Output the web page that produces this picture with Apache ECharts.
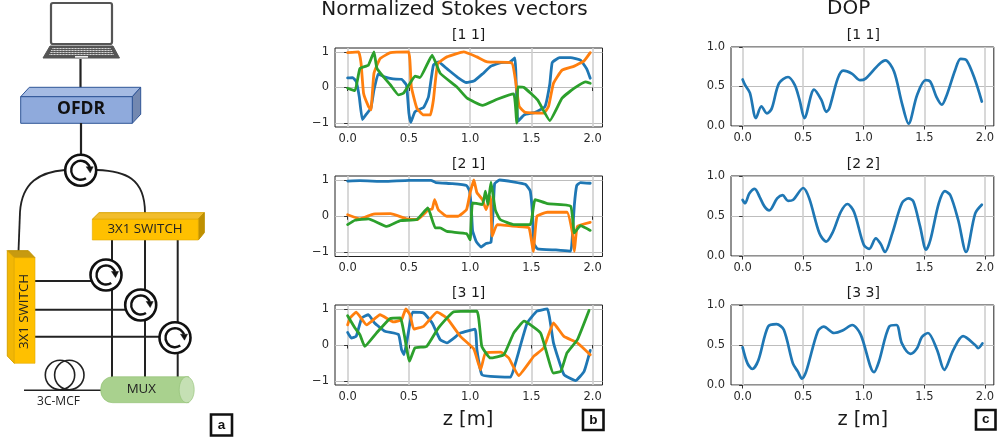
<!DOCTYPE html>
<html><head><meta charset="utf-8">
<style>html,body{margin:0;padding:0;background:#fff}#c{width:997px;height:438px}</style>
<script src="https://cdn.jsdelivr.net/npm/echarts@6/dist/echarts.min.js"></script>
</head><body><div id="c"></div>
<script>
const xTicks=[0,0.5,1,1.5,2];
const stokesTicks=[-1,0,1];
const dopTicks=[0,0.5,1];
const stokesTitles=['[1 1]','[2 1]','[3 1]'];
const dopTitles=['[1 1]','[2 2]','[3 3]'];

const s11Blue=[[0,.27],[.04,.28],[.07,.17],[.095,-.26],[.12,-.9],[.155,-.74],[.19,-.58],[.215,-.07],[.25,.38],[.3,.3],[.37,.24],[.44,.23],[.48,.07],[.5,-.72],[.515,-.98],[.55,-.68],[.62,-.56],[.66,-.26],[.7,.63],[.74,.72],[.81,.53],[.9,.28],[.97,.14],[1.03,.18],[1.1,.38],[1.17,.6],[1.25,.7],[1.32,.71],[1.365,.83],[1.38,-.35],[1.39,-.95],[1.44,-.77],[1.53,-.7],[1.61,-.54],[1.65,.1],[1.67,.7],[1.73,.84],[1.82,.84],[1.9,.77],[1.95,.53],[1.98,.26]];
const s11Orange=[[0,.98],[.09,1],[.11,.67],[.13,-.16],[.17,-.53],[.19,-.63],[.215,.4],[.265,.81],[.35,.98],[.497,1],[.52,.02],[.565,-.58],[.62,-.77],[.675,-.77],[.7,-.35],[.735,.67],[.81,.86],[.947,1],[1.055,.86],[1.14,.72],[1.34,.69],[1.37,.2],[1.4,-.53],[1.45,-.7],[1.6,-.72],[1.64,-.53],[1.68,.12],[1.75,.49],[1.85,.6],[1.93,.75],[1.98,.98]];
const s11Green=[[0,-.02],[.06,-.09],[.1,.53],[.17,.63],[.215,1],[.24,.53],[.35,.07],[.415,-.21],[.455,-.16],[.5,.07],[.55,.32],[.59,.28],[.69,.91],[.755,.4],[.89,.02],[.975,-.3],[1.1,-.5],[1.22,-.33],[1.355,-.18],[1.38,-1],[1.39,.02],[1.44,0],[1.55,-.35],[1.65,-.93],[1.75,-.3],[1.85,-.02],[1.94,.16],[1.98,.12]];

const s21Blue=[[0,.97],[.1,.98],[.3,.96],[.5,.99],[.68,.99],[.72,.93],[.85,.9],[.97,.85],[.995,.7],[1.01,.2],[1.02,-.4],[1.05,-.7],[1.09,-.85],[1.13,-.75],[1.17,-.72],[1.19,.3],[1.2,.9],[1.24,1],[1.35,.95],[1.45,.88],[1.49,.7],[1.51,0],[1.52,-.75],[1.55,-.9],[1.7,-.93],[1.82,-.96],[1.835,-.5],[1.85,.3],[1.87,.85],[1.9,.93],[1.98,.91]];
const s21Orange=[[0,.04],[.1,-.07],[.21,.06],[.35,.07],[.48,-.07],[.57,-.09],[.66,.18],[.69,.2],[.71,.46],[.74,.18],[.81,0],[.9,0],[.97,.18],[1,.65],[1.03,1],[1.055,.65],[1.1,.46],[1.13,.18],[1.165,.55],[1.18,-.55],[1.22,-.23],[1.38,-.28],[1.48,-.32],[1.515,-.97],[1.545,0],[1.63,.11],[1.79,.11],[1.835,-.46],[1.85,-.97],[1.875,-.28],[1.98,-.17]];
const s21Green=[[0,-.23],[.06,-.11],[.17,-.07],[.32,-.28],[.43,-.12],[.565,-.09],[.655,.23],[.715,-.32],[.755,-.32],[.81,-.42],[.97,-.48],[1,-.65],[1.02,.37],[1.1,.32],[1.125,.69],[1.145,.32],[1.17,.94],[1.205,.18],[1.245,-.09],[1.355,-.23],[1.49,-.23],[1.53,.46],[1.63,.35],[1.82,.28],[1.85,-.46],[1.9,-.26],[1.98,-.39]];

const s31Blue=[[0,.35],[.03,.19],[.07,.24],[.115,.75],[.17,.84],[.22,.61],[.305,.38],[.415,.29],[.44,-.13],[.46,-.27],[.495,.33],[.53,.91],[.62,.89],[.69,.61],[.755,.15],[.81,.06],[.92,.33],[1.04,.44],[1.055,-.13],[1.095,-.82],[1.165,-.87],[1.33,-.89],[1.37,-.5],[1.465,.61],[1.545,.94],[1.63,1],[1.68,.06],[1.765,-.82],[1.86,-.99],[1.93,-.73],[1.98,-.15]];
const s31Orange=[[0,.56],[.02,.75],[.07,.91],[.155,.56],[.265,.84],[.375,.64],[.44,.7],[.475,1],[.51,.84],[.54,.44],[.62,.52],[.73,.91],[.81,.75],[.92,.24],[1.03,-.11],[1.085,-.69],[1.125,-.22],[1.25,-.2],[1.315,-.36],[1.395,-.85],[1.52,-.31],[1.6,-.08],[1.68,.61],[1.765,.24],[1.875,.06],[1.98,-.27]];
const s31Green=[[0,.81],[.06,.47],[.1,.29],[.14,-.04],[.235,.33],[.345,.73],[.43,.75],[.505,-.45],[.55,-.08],[.645,-.04],[.74,.47],[.865,.92],[1.055,.94],[1.095,-.04],[1.165,-.36],[1.275,-.27],[1.355,.33],[1.44,.66],[1.575,.33],[1.68,-.78],[1.74,-.73],[1.79,-.22],[1.875,.15],[1.97,.96]];

const dop11=[[0,.59],[.02,.52],[.06,.42],[.11,.1],[.155,.25],[.2,.16],[.24,.22],[.3,.54],[.375,.62],[.43,.52],[.47,.33],[.51,.1],[.59,.46],[.65,.33],[.69,.18],[.715,.22],[.785,.6],[.83,.7],[.905,.66],[.97,.58],[1.015,.6],[1.125,.78],[1.18,.83],[1.25,.69],[1.315,.29],[1.37,.03],[1.44,.39],[1.51,.58],[1.55,.56],[1.6,.37],[1.645,.27],[1.685,.39],[1.755,.71],[1.8,.85],[1.85,.83],[1.92,.58],[1.975,.31]];
const dop22=[[0,.7],[.02,.66],[.055,.78],[.1,.84],[.14,.74],[.18,.62],[.22,.57],[.285,.72],[.33,.76],[.375,.69],[.415,.7],[.5,.85],[.55,.72],[.635,.28],[.69,.18],[.745,.3],[.81,.55],[.865,.65],[.92,.55],[1,.14],[1.045,.09],[1.1,.22],[1.14,.15],[1.175,.05],[1.235,.28],[1.315,.66],[1.37,.72],[1.41,.68],[1.465,.37],[1.515,.08],[1.55,.2],[1.62,.66],[1.67,.81],[1.715,.76],[1.78,.45],[1.845,.05],[1.92,.53],[1.975,.64]];
const dop33=[[0,.47],[.04,.27],[.08,.2],[.13,.31],[.21,.73],[.28,.76],[.34,.69],[.415,.27],[.455,.17],[.49,.08],[.525,.17],[.62,.67],[.67,.73],[.755,.65],[.825,.68],[.905,.75],[.975,.63],[1.085,.16],[1.125,.29],[1.21,.73],[1.27,.75],[1.315,.52],[1.385,.39],[1.44,.46],[1.48,.6],[1.53,.65],[1.605,.44],[1.665,.19],[1.74,.44],[1.82,.61],[1.92,.5],[1.945,.46],[1.98,.52]];

const stokesSets=[[s11Blue,s11Orange,s11Green],[s21Blue,s21Orange,s21Green],[s31Blue,s31Orange,s31Green]];
const dopSets=[dop11,dop22,dop33];
const colours=['#1f77b4','#ff7f0e','#2ca02c'];

const FONT='"DejaVu Sans"', INK='#2a2a2a';
const grids=[],xAxes=[],yAxes=[],series=[],titles=[];
function addPanel(box,ymin,ymax,yt,yfmt,xr,lines,w,sm){
  const i=grids.length;
  grids.push({left:box[0],top:box[1],width:box[2],height:box[3],show:true,borderColor:'#222',borderWidth:1,backgroundColor:'transparent',containLabel:false});
  xAxes.push({type:'value',gridIndex:i,min:xr[0],max:xr[1],
    axisLine:{show:false},
    axisTick:{show:true,length:3.5,customValues:xTicks,lineStyle:{color:'#333',width:1}},
    axisLabel:{customValues:xTicks,margin:6,fontFamily:FONT,fontSize:11.5,color:INK,formatter:v=>v.toFixed(1)},
    splitLine:{show:true,lineStyle:{color:'#cfcfcf',width:1.6}}});
  yAxes.push({type:'value',gridIndex:i,min:ymin,max:ymax,
    axisLine:{show:false},
    axisTick:{show:true,length:3.5,customValues:yt,lineStyle:{color:'#333',width:1}},
    axisLabel:{customValues:yt,margin:6,fontFamily:FONT,fontSize:11.5,color:INK,formatter:yfmt},
    splitLine:{show:true,lineStyle:{color:'#bdbdbd',width:1.1}}});
  lines.forEach((d,k)=>series.push({type:'line',xAxisIndex:i,yAxisIndex:i,data:d,symbol:'none',showSymbol:false,silent:true,smooth:sm,
    lineStyle:{color:colours[k],width:w,join:'round',cap:'round'},z:3+k}));
}
const boxesB=[[335,48,267.5,79],[335,176,267.5,80.5],[335,305,267.5,80]];
const boxesC=[[731,47,265,79],[731,176,265,80],[731,305,265,80]];
boxesB.forEach((b,i)=>addPanel(b,-1.11,1.11,stokesTicks,v=>String(v).replace('-','\u2212'),[-0.103,2.08],stokesSets[i],2.8,0.12));
boxesC.forEach((b,i)=>addPanel(b,0,1,dopTicks,v=>v.toFixed(1),[-0.096,2.074],[dopSets[i]],2.7,0.3));

function addTitle(t,x,y,size){titles.push({text:t,left:x,top:y,textAlign:'center',textVerticalAlign:'middle',padding:0,textStyle:{fontFamily:FONT,fontSize:size,fontWeight:'normal',color:'#1a1a1a'}});}
addTitle('Normalized Stokes vectors',454.5,9.5,20);
addTitle('DOP',848.7,9,20);
[35,164.5,293].forEach((y,i)=>{addTitle(stokesTitles[i],468.7,y,14);addTitle(dopTitles[i],863.3,y,14);});
addTitle('z [m]',468,420,19.5);
addTitle('z [m]',862.7,420,19.5);

// schematic (panel a)
const g=[];
const LINE='#222';
const line=(x1,y1,x2,y2,w=2,c=LINE)=>g.push({type:'line',silent:true,shape:{x1,y1,x2,y2},style:{stroke:c,lineWidth:w}});
const poly=(pts,fill,stroke,w=1)=>g.push({type:'polygon',silent:true,shape:{points:pts},style:{fill,stroke,lineWidth:w}});
const text=(s,x,y,size,opts={})=>g.push({type:'text',silent:true,x,y,rotation:opts.rot||0,style:{x:0,y:0,text:s,fontSize:size,fontFamily:opts.ff||'"Open Sans"',fontWeight:opts.fw||'normal',fill:opts.c||'#222',align:'center',verticalAlign:'middle',textAlign:'center',textVerticalAlign:'middle'}});
const curve=(x1,y1,cpx1,cpy1,cpx2,cpy2,x2,y2)=>g.push({type:'bezierCurve',silent:true,shape:{x1,y1,x2,y2,cpx1,cpy1,cpx2,cpy2},style:{stroke:LINE,lineWidth:1.8,fill:null}});
function circulator(cx,cy){
  g.push({type:'circle',silent:true,shape:{cx,cy,r:15.5},style:{fill:'#fff',stroke:'#111',lineWidth:2.6}});
  g.push({type:'arc',silent:true,shape:{cx,cy,r:9.5,startAngle:Math.PI/3.2,endAngle:Math.PI*2-0.35,clockwise:true},style:{stroke:'#111',lineWidth:2.4,fill:null}});
  poly([[cx+9.5,cy+2.5],[cx+5.5,cy-3.5],[cx+12.5,cy-3.5]],'#111','#111',0.5);
}
function labelBox(x,y,w,h,s){
  g.push({type:'rect',silent:true,shape:{x,y,width:w,height:h},style:{fill:'#fff',stroke:'#111',lineWidth:2.6}});
  text(s,x+w/2,y+h/2,13.5,{fw:'bold',c:'#111',ff:'"Liberation Sans"'});
}
// laptop
g.push({type:'rect',silent:true,shape:{x:51,y:3,width:61,height:41,r:2},style:{fill:'#fff',stroke:'#555',lineWidth:2.2}});
poly([[50,46],[113,46],[119.5,58],[43,58]],'#555','#555');
[48.5,50.5,52.5,54.5].forEach((y,i)=>line(52-i,y,111+i,y,1.2,'#d5d5d5'));
[48.5,50.5,52.5,54.5].forEach(y=>{for(let x=50;x<115;x+=3)line(x,y-1,x,y+1,.7,'#555');});
line(75,56.8,88,56.8,1.6,'#f0f0f0');
line(80.5,59,80.5,88,2.2);
// OFDR
poly([[20.7,96.7],[29.3,87.3],[140.7,87.3],[132.3,96.7]],'#a5bbe3','#2f5597');
poly([[132.3,96.7],[140.7,87.3],[140.7,114.3],[132.3,123.3]],'#7388b0','#2f5597');
g.push({type:'rect',silent:true,shape:{x:20.7,y:96.7,width:111.6,height:26.6},style:{fill:'#8faadc',stroke:'#2f5597',lineWidth:1}});
text('OFDR',81,109,17.5,{fw:'bold',c:'#111'});
line(81,123,81,156,2.2);
// fibres
curve(65,170,40,172,22,182,20,212);
line(20,212,18.5,251,1.8);
curve(97,170,125,171,145,178,145,213);
line(145,240,145,377);
line(112,240,112,377);
line(177.7,240,177.7,377);
line(35,281,107,281);
line(35,309.7,141,309.7);
line(35,336.7,176,336.7);
// top switch
poly([[92.3,219.3],[99,212.7],[204.3,212.7],[198.3,219.3]],'#f2bd2c','#d9a300');
poly([[198.3,219.3],[204.3,212.7],[204.3,232.7],[198.3,240]],'#bf9000','#bf9000');
g.push({type:'rect',silent:true,shape:{x:92.3,y:219.3,width:106,height:20.7},style:{fill:'#ffc000',stroke:'#e0a800',lineWidth:.6}});
text('3X1 SWITCH',145,229.3,13.3);
// left switch
poly([[7.3,250.7],[28.3,250.7],[35,257.7],[14.3,257.7]],'#c79a10','#bf9000');
poly([[7.3,250.7],[14.3,257.7],[14.3,363.3],[7.3,356]],'#f2b705','#d9a300');
g.push({type:'rect',silent:true,shape:{x:14.3,y:257.7,width:20.7,height:105.6},style:{fill:'#ffc000',stroke:'#e0a800',lineWidth:.6}});
text('3X1 SWITCH',23.8,311.5,13.3,{rot:Math.PI/2});
// circulators
circulator(80.7,170.3);
circulator(106,275);
circulator(140.7,305);
circulator(175,337.7);
// MCF coil
[60,69.3].forEach(cx=>g.push({type:'circle',silent:true,shape:{cx,cy:375,r:14.7},style:{fill:null,stroke:'#222',lineWidth:1.6}}));
line(24,390.3,102,390.3,1.4);
text('3C-MCF',58.5,401.7,12);
// MUX
g.push({type:'rect',silent:true,shape:{x:100.7,y:376.7,width:88,height:26,r:[12,0,0,12]},style:{fill:'#a9d18e',stroke:'#8fbf70',lineWidth:.6}});
g.push({type:'ellipse',silent:true,shape:{cx:186.7,cy:389.7,rx:7.5,ry:13},style:{fill:'#c5e0b4',stroke:'#8fbf70',lineWidth:.6}});
text('MUX',141.3,389.3,13.3);
labelBox(211,414.5,21,21,'a');
labelBox(583,410,20.5,20,'b');
labelBox(976,410,19.5,19.5,'c');

const chart=echarts.init(document.getElementById('c'),null,{renderer:'canvas'});
chart.setOption({animation:false,backgroundColor:'#fff',title:titles,tooltip:{show:false},legend:{show:false},grid:grids,xAxis:xAxes,yAxis:yAxes,series,graphic:{elements:g}});
</script></body></html>
